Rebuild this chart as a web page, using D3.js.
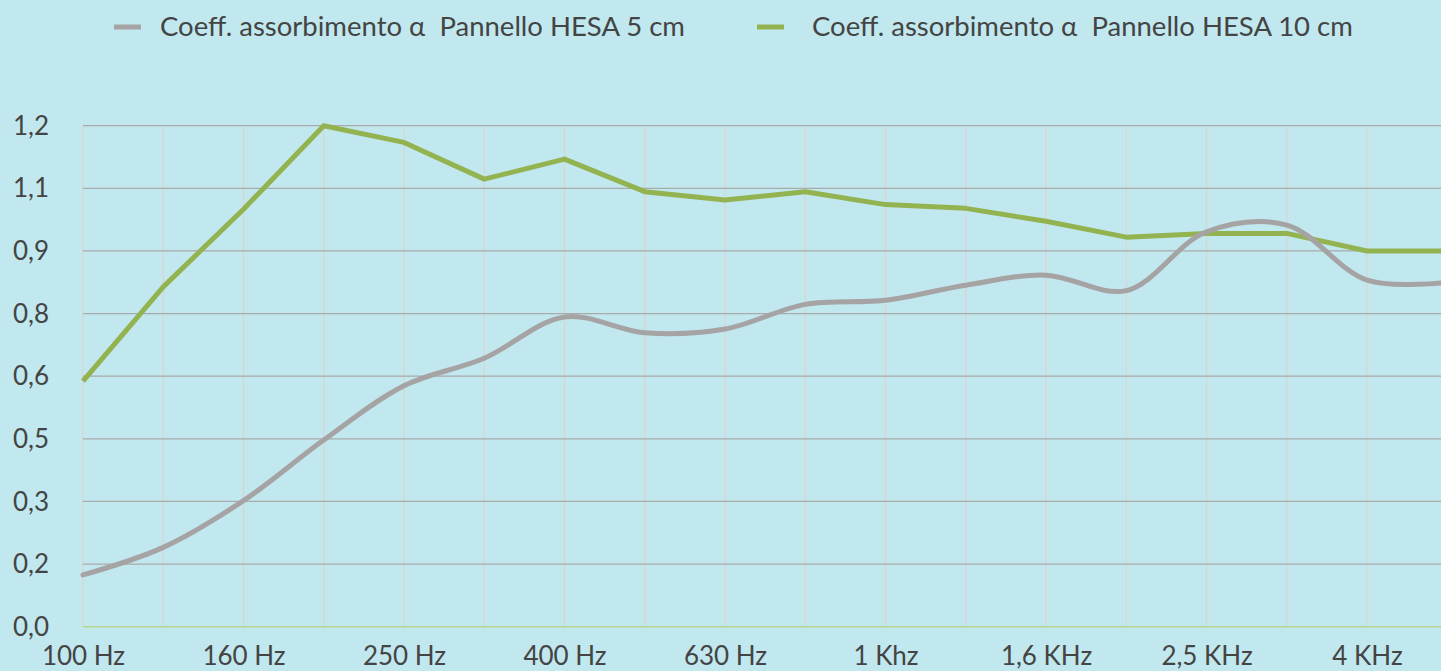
<!DOCTYPE html>
<html>
<head>
<meta charset="utf-8">
<script src="https://cdn.jsdelivr.net/npm/d3@7"></script>
<style>
  html, body { margin: 0; padding: 0; background: #c1e8ee; overflow: hidden; }
  svg { display: block; }
  text { font-family: Lato, "Open Sans", sans-serif; fill: #444; white-space: pre; }
</style>
</head>
<body>
<svg id="chart" width="1441" height="671"></svg>
<script>
// ---- data ----
const categories = ["100 Hz","125 Hz","160 Hz","200 Hz","250 Hz","315 Hz","400 Hz","500 Hz","630 Hz","800 Hz",
                    "1 Khz","1,25 KHz","1,6 KHz","2 KHz","2,5 KHz","3,15 KHz","4 KHz","5 KHz"];
const seriesNames = ["Coeff. assorbimento α  Pannello HESA 5 cm", "Coeff. assorbimento α  Pannello HESA 10 cm"];
const hesa5  = [0.124, 0.190, 0.302, 0.447, 0.577, 0.643, 0.742, 0.704, 0.713, 0.772,
                0.782, 0.818, 0.842, 0.805, 0.946, 0.962, 0.830, 0.825];
const hesa10 = [0.588, 0.814, 1.000, 1.200, 1.160, 1.072, 1.120, 1.042, 1.022, 1.042,
                1.011, 1.002, 0.971, 0.933, 0.942, 0.942, 0.900, 0.900];
const yTickValues = [0, 0.15, 0.30, 0.45, 0.60, 0.75, 0.90, 1.05, 1.20];
const yTickLabels = ["0,0","0,2","0,3","0,5","0,6","0,8","0,9","1,1","1,2"];

// ---- layout ----
const W = 1441, H = 671;
const left = 83, step = 80.25;
const x = d3.scalePoint().domain(categories).range([left, left + step * (categories.length - 1)]);
const y = d3.scaleLinear().domain([0, 1.2]).range([626.7, 125.7]);

const svg = d3.select("#chart");
svg.append("rect").attr("width", W).attr("height", H).attr("fill", "#c1e8ee");

// vertical gridlines
svg.append("g").selectAll("line").data(categories).join("line")
  .attr("x1", d => x(d)).attr("x2", d => x(d))
  .attr("y1", y(1.2)).attr("y2", y(0))
  .attr("stroke", "#dcd3ce").attr("stroke-width", 1.2);

// horizontal gridlines
svg.append("g").selectAll("line").data(yTickValues.filter(v => v > 0)).join("line")
  .attr("x1", left).attr("x2", W)
  .attr("y1", d => y(d)).attr("y2", d => y(d))
  .attr("stroke", "#a9aaaa").attr("stroke-width", 1.3);

// x axis baseline
svg.append("line").attr("x1", left).attr("x2", W).attr("y1", y(0)).attr("y2", y(0))
  .attr("stroke", "#b5d68c").attr("stroke-width", 1.5);

// y axis labels
const yAxis = d3.axisLeft(y).tickValues(yTickValues)
  .tickFormat((d, i) => yTickLabels[i]).tickSize(0).tickPadding(0);
const gy = svg.append("g").attr("transform", "translate(49,0)").call(yAxis);
gy.select(".domain").remove();
gy.selectAll("text").attr("font-size", 26).attr("dy", "0.33em")
  .style("font-family", "Lato, 'Open Sans', sans-serif").attr("fill", "#444");

// x axis labels
const xAxis = d3.axisBottom(x).tickSize(0).tickPadding(0)
  .tickFormat((d, i) => i % 2 === 0 ? d : "");
const gx = svg.append("g").attr("transform", `translate(0,${y(0)})`).call(xAxis);
gx.select(".domain").remove();
gx.selectAll("text").attr("font-size", 26).attr("y", 38).attr("dy", 0)
  .style("font-family", "Lato, 'Open Sans', sans-serif").attr("fill", "#444");

// lines
const colors = ["#a5a3a3", "#93b351"];
const line5 = d3.line().x((d, i) => x(categories[i])).y(d => y(d)).curve(d3.curveCatmullRom.alpha(0.5));
const line10 = d3.line().x((d, i) => x(categories[i])).y(d => y(d)).curve(d3.curveLinear);

svg.append("path").datum(hesa10).attr("d", line10)
  .attr("fill", "none").attr("stroke", colors[1]).attr("stroke-width", 5).attr("stroke-linejoin", "round");
svg.append("path").datum(hesa5).attr("d", line5)
  .attr("fill", "none").attr("stroke", colors[0]).attr("stroke-width", 5).attr("stroke-linecap", "round");

// legend
const legendPos = [{dash: 114, text: 160}, {dash: 757, text: 812}];
const lg = svg.append("g").selectAll("g").data(seriesNames).join("g");
lg.append("line")
  .attr("x1", (d, i) => legendPos[i].dash).attr("x2", (d, i) => legendPos[i].dash + 27)
  .attr("y1", 27).attr("y2", 27)
  .attr("stroke", (d, i) => colors[i]).attr("stroke-width", 5);
lg.append("text")
  .attr("x", (d, i) => legendPos[i].text).attr("y", 36)
  .attr("font-size", 27.5)
  .text(d => d);
</script>
</body>
</html>
